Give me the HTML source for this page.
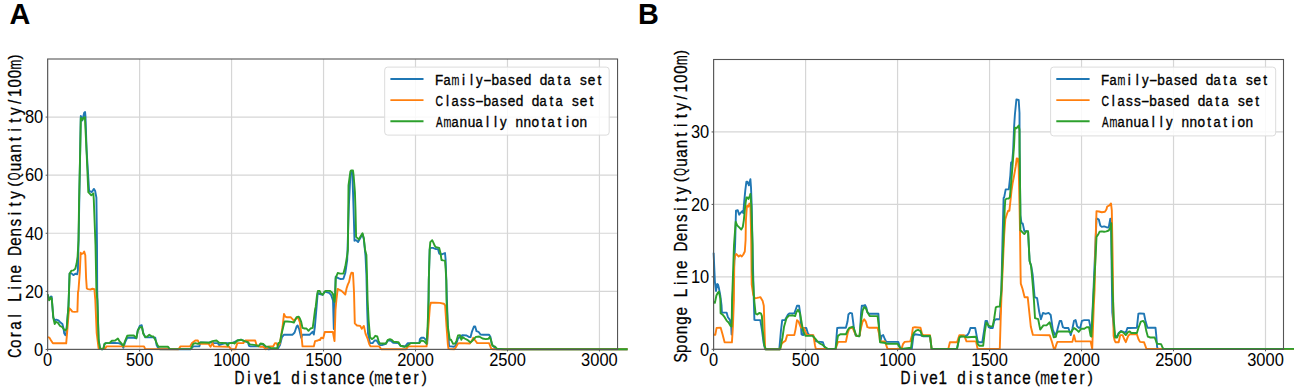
<!DOCTYPE html>
<html><head><meta charset="utf-8"><style>
html,body{margin:0;padding:0;background:#fff;width:1299px;height:392px;overflow:hidden}
svg{display:block}
</style></head><body>
<svg width="1299" height="392" viewBox="0 0 1299 392">
<rect width="1299" height="392" fill="#fff"/>
<g stroke="#d6d6d6" stroke-width="1.2"><line x1="47.65" y1="59.0" x2="47.65" y2="349.45"/><line x1="139.62" y1="59.0" x2="139.62" y2="349.45"/><line x1="231.58" y1="59.0" x2="231.58" y2="349.45"/><line x1="323.55" y1="59.0" x2="323.55" y2="349.45"/><line x1="415.51" y1="59.0" x2="415.51" y2="349.45"/><line x1="507.48" y1="59.0" x2="507.48" y2="349.45"/><line x1="599.44" y1="59.0" x2="599.44" y2="349.45"/><line x1="47.65" y1="349.45" x2="617.5" y2="349.45"/><line x1="47.65" y1="291.36" x2="617.5" y2="291.36"/><line x1="47.65" y1="233.27" x2="617.5" y2="233.27"/><line x1="47.65" y1="175.18" x2="617.5" y2="175.18"/><line x1="47.65" y1="117.09" x2="617.5" y2="117.09"/></g>
<polyline fill="none" stroke="#1f77b4" stroke-width="1.9" stroke-linejoin="round" stroke-linecap="butt" points="47.7,294.5 49.2,299.5 50.9,296.5 51.7,296.7 53.2,317.3 54.7,320.3 56.2,319.6 58.5,320.3 60.5,322.6 62.4,324.1 63.6,328.7 64.2,333.3 65.4,335.2 66.2,333.3 68.5,305.8 69.6,273.4 71.5,273.4 73.4,275.1 75.3,273.8 77.2,274.2 77.9,270.6 78.6,240.0 79.3,200.0 80.2,150.0 80.8,115.9 82.3,120.4 84.2,112.8 85.1,112.1 85.5,116.6 86.6,150.0 89.1,190.8 91.9,192.1 93.8,188.9 95.1,190.8 96.4,197.6 97.0,245.0 97.2,290.0 98.6,340.0 100.0,348.4 102.0,349.3 103.3,349.1 104.6,343.8 105.9,343.1 109.3,343.1 111.2,342.7 118.5,343.1 121.2,344.0 123.4,347.7 125.2,342.0 127.2,337.8 133.8,337.8 136.4,338.2 137.8,330.5 139.8,325.9 141.7,325.2 143.3,333.2 145.3,337.4 153.3,337.4 155.3,337.8 156.6,345.1 157.9,347.7 160.0,349.3 190.6,349.3 193.3,346.4 199.3,346.4 200.6,342.4 209.2,342.7 212.5,342.0 213.2,343.1 217.8,343.1 219.2,345.1 222.0,344.0 225.8,343.1 232.4,343.1 237.3,340.5 241.3,339.8 244.6,341.1 247.9,342.2 249.0,345.8 250.6,346.4 255.9,346.4 258.5,346.4 260.5,344.0 263.2,344.5 265.2,347.7 268.5,349.3 278.0,348.4 280.0,345.1 282.0,337.1 284.0,334.7 292.6,334.7 294.6,332.5 296.6,326.5 297.6,325.5 299.2,329.2 301.2,337.8 302.5,334.7 309.8,334.7 311.2,333.2 312.7,331.8 313.8,334.5 314.9,326.5 316.5,308.0 317.7,292.9 319.6,294.1 322.8,294.8 324.7,291.6 329.1,292.9 331.0,294.8 333.0,300.5 333.8,329.0 335.7,276.8 338.9,278.3 340.8,279.1 343.4,278.7 345.3,273.0 347.2,260.2 348.9,205.0 350.4,175.0 351.7,171.5 352.3,172.8 353.0,191.9 353.6,210.0 354.5,240.7 356.1,240.1 358.1,242.0 360.6,237.5 362.5,234.0 363.8,239.0 365.5,256.0 366.4,275.0 367.2,310.0 368.0,333.2 370.0,343.1 372.6,343.1 374.6,340.5 376.6,340.5 378.6,343.8 379.9,345.1 381.9,345.1 385.9,343.8 387.9,340.5 390.5,340.5 393.2,342.7 398.5,343.1 400.5,345.8 405.0,346.5 407.8,343.1 412.0,343.1 419.3,343.1 419.9,339.1 421.3,337.8 423.9,337.8 425.9,339.8 427.2,343.8 428.2,320.0 428.8,280.0 429.7,249.1 431.0,247.9 432.9,247.9 436.0,249.1 438.0,249.1 439.2,253.6 440.5,254.2 442.4,254.2 445.0,253.0 445.6,259.3 446.3,280.0 447.8,326.5 449.1,346.4 451.1,346.4 453.8,346.7 455.7,345.8 458.0,338.5 460.0,336.9 462.6,335.1 466.6,335.5 469.3,337.1 470.6,337.1 471.9,331.8 473.9,326.5 475.2,326.5 476.5,331.2 478.5,331.8 480.5,334.5 483.2,334.7 489.1,334.7 490.5,337.1 491.8,344.4 493.8,346.4 495.1,348.4 497.0,349.3 627.6,349.3"/>
<polyline fill="none" stroke="#ff7f0e" stroke-width="1.9" stroke-linejoin="round" stroke-linecap="butt" points="47.7,337.2 49.4,337.6 50.9,340.2 52.9,343.3 66.2,343.3 67.3,330.3 68.5,315.0 69.3,308.1 70.8,309.6 72.3,311.6 74.6,311.9 77.4,311.6 78.0,292.0 78.5,290.0 79.8,271.9 80.7,252.8 81.7,254.0 83.0,253.4 84.2,251.5 85.3,255.3 86.1,278.3 86.8,288.5 88.1,289.1 90.6,289.5 92.5,288.7 94.4,289.1 95.3,300.0 96.7,333.2 98.6,348.4 104.6,349.1 106.6,346.4 144.0,346.4 145.3,349.1 178.5,349.3 180.5,346.4 190.0,346.4 192.0,343.1 195.3,340.5 197.9,340.5 199.3,343.8 208.5,343.8 210.5,346.7 212.5,343.1 213.9,346.4 229.1,346.7 231.1,349.3 235.3,349.3 237.3,343.1 243.3,343.1 245.3,340.5 255.2,340.5 256.5,345.1 259.9,346.7 263.2,346.7 265.8,349.3 269.1,346.4 273.1,346.4 275.1,343.1 276.4,343.1 277.8,345.8 279.7,343.8 280.7,338.5 282.6,326.5 284.0,313.9 285.3,316.6 286.6,317.2 290.6,317.2 293.9,320.6 295.9,318.6 297.9,317.2 299.9,322.5 301.2,333.2 302.5,346.4 313.8,346.4 315.1,341.1 317.8,340.5 319.1,339.8 320.0,340.0 321.1,337.8 323.2,338.2 324.8,332.0 332.9,332.0 334.5,341.1 335.5,310.0 336.4,300.0 337.7,288.9 338.9,289.5 341.5,290.8 343.4,292.7 345.3,294.6 346.6,288.3 347.9,284.4 349.1,281.9 350.4,275.5 351.4,272.7 353.0,273.0 354.0,292.1 354.8,323.4 357.0,325.5 360.2,325.9 361.8,328.8 363.9,325.9 365.5,333.6 367.7,338.9 369.3,344.3 370.6,346.4 379.2,346.4 381.2,349.3 405.8,349.3 407.8,346.8 408.5,346.4 426.6,346.4 427.9,333.2 429.9,306.6 430.8,302.7 434.5,302.7 439.8,302.9 443.8,303.7 445.1,305.3 446.5,326.5 447.8,343.8 448.5,349.1 454.4,349.3 456.4,346.4 458.0,343.5 460.0,343.1 469.9,343.5 471.9,340.5 473.2,337.8 475.2,340.5 477.2,343.1 489.1,343.1 491.1,348.4 492.5,349.3 627.6,349.3"/>
<polyline fill="none" stroke="#2ca02c" stroke-width="1.9" stroke-linejoin="round" stroke-linecap="butt" points="47.7,294.4 49.1,300.3 50.9,297.4 51.7,298.5 53.5,318.8 54.7,324.1 55.9,321.8 57.8,322.6 60.1,326.0 62.4,327.2 63.9,329.5 65.4,330.3 66.7,328.7 68.5,305.8 69.6,273.8 71.5,270.6 73.4,270.4 75.3,268.7 76.6,263.6 77.6,256.6 78.5,240.0 79.1,200.0 80.2,150.0 80.8,117.9 82.3,119.8 83.6,117.9 84.9,117.2 86.5,150.0 88.3,192.1 91.3,195.3 93.4,193.4 93.8,200.0 95.5,245.0 96.4,290.0 97.3,300.0 98.6,339.8 100.0,348.4 102.0,349.3 103.3,349.1 104.6,343.8 105.9,343.1 109.3,343.1 111.9,340.8 115.2,340.5 117.9,338.5 119.2,340.8 121.2,343.1 123.4,345.8 125.2,340.5 127.2,335.8 129.8,335.5 133.8,335.5 136.4,338.2 137.8,330.5 139.8,327.2 142.0,327.2 143.3,333.8 145.3,337.1 147.3,336.5 149.3,334.7 151.3,336.1 153.3,336.5 155.3,339.8 157.2,344.4 158.6,346.7 167.9,346.7 169.8,349.1 190.6,349.1 193.3,343.8 195.3,343.1 197.9,343.8 200.6,342.4 209.2,342.7 212.5,341.1 216.5,340.5 219.2,342.7 225.8,343.1 227.8,345.8 229.1,343.1 233.7,342.7 234.5,343.5 237.3,340.5 241.3,339.8 244.6,341.1 247.9,342.2 249.9,344.4 255.9,345.1 258.5,346.2 260.5,343.5 263.2,344.0 265.8,346.4 268.5,346.7 270.5,348.0 277.1,348.4 278.4,343.1 280.0,342.4 281.3,335.1 283.3,326.5 284.6,321.5 287.3,321.5 291.3,321.9 293.9,322.5 296.6,317.2 298.6,316.6 299.9,318.6 301.2,321.9 302.5,327.9 304.5,328.5 306.5,328.5 308.5,330.8 310.5,328.5 312.7,327.9 313.8,319.9 315.1,309.3 315.7,306.9 317.0,295.4 317.9,290.9 319.6,290.9 320.8,293.5 322.8,294.8 324.7,291.6 325.9,290.9 329.8,290.9 331.7,292.2 333.0,294.1 334.0,300.5 334.5,301.8 335.3,292.9 335.7,278.1 337.7,273.0 340.2,273.6 343.4,273.6 345.3,266.6 347.2,255.1 347.9,250.0 348.5,185.5 350.4,171.5 351.0,170.5 353.0,170.5 353.6,175.3 354.9,191.9 355.5,210.0 356.1,236.9 358.7,239.4 360.6,236.3 362.5,233.3 363.8,238.2 365.1,250.0 366.4,255.1 367.0,275.5 367.6,300.0 368.6,319.9 370.0,337.1 371.9,339.1 373.9,337.8 375.3,335.8 377.3,336.5 378.6,341.1 379.9,343.5 385.9,343.5 387.9,339.8 389.9,339.1 391.8,339.8 393.8,341.8 398.5,342.2 400.5,345.8 404.4,346.7 406.4,346.4 408.4,345.1 410.7,343.1 419.3,343.1 421.3,340.5 423.9,341.1 426.6,343.8 427.6,326.5 428.6,300.0 428.8,280.0 429.7,249.1 430.3,242.1 432.2,240.2 433.5,242.8 434.8,245.9 436.0,247.2 439.2,247.9 440.5,253.0 441.5,260.0 443.1,260.4 445.0,260.6 445.6,268.3 446.3,280.0 446.5,300.0 447.8,326.5 449.8,339.8 451.1,339.8 453.1,343.8 455.1,343.5 456.4,341.1 458.0,335.5 460.0,335.1 461.3,339.8 462.6,337.1 464.6,338.5 467.3,339.8 470.6,342.4 472.6,340.5 475.9,336.9 479.2,336.5 482.5,338.5 485.8,339.1 488.5,338.7 489.8,337.1 490.9,339.8 492.5,345.8 495.1,346.7 497.1,348.8 504.0,349.3 627.6,349.3"/>
<rect x="47.65" y="59.0" width="569.9" height="290.4" fill="none" stroke="#555" stroke-width="1.1"/>
<g stroke="#555" stroke-width="1"><line x1="47.65" y1="349.45" x2="47.65" y2="351.45"/><line x1="139.62" y1="349.45" x2="139.62" y2="351.45"/><line x1="231.58" y1="349.45" x2="231.58" y2="351.45"/><line x1="323.55" y1="349.45" x2="323.55" y2="351.45"/><line x1="415.51" y1="349.45" x2="415.51" y2="351.45"/><line x1="507.48" y1="349.45" x2="507.48" y2="351.45"/><line x1="599.44" y1="349.45" x2="599.44" y2="351.45"/><line x1="45.65" y1="349.45" x2="47.65" y2="349.45"/><line x1="45.65" y1="291.36" x2="47.65" y2="291.36"/><line x1="45.65" y1="233.27" x2="47.65" y2="233.27"/><line x1="45.65" y1="175.18" x2="47.65" y2="175.18"/><line x1="45.65" y1="117.09" x2="47.65" y2="117.09"/></g>
<g font-family="Liberation Sans, sans-serif" font-size="18.0" fill="#000"><text transform="translate(47.65,365.7) scale(0.915,1)" text-anchor="middle">0</text><text transform="translate(139.62,365.7) scale(0.915,1)" text-anchor="middle">500</text><text transform="translate(231.58,365.7) scale(0.915,1)" text-anchor="middle">1000</text><text transform="translate(323.55,365.7) scale(0.915,1)" text-anchor="middle">1500</text><text transform="translate(415.51,365.7) scale(0.915,1)" text-anchor="middle">2000</text><text transform="translate(507.48,365.7) scale(0.915,1)" text-anchor="middle">2500</text><text transform="translate(599.44,365.7) scale(0.915,1)" text-anchor="middle">3000</text><text transform="translate(43.25,355.75) scale(0.915,1)" text-anchor="end">0</text><text transform="translate(43.25,297.66) scale(0.915,1)" text-anchor="end">20</text><text transform="translate(43.25,239.57) scale(0.915,1)" text-anchor="end">40</text><text transform="translate(43.25,181.48) scale(0.915,1)" text-anchor="end">60</text><text transform="translate(43.25,123.39) scale(0.915,1)" text-anchor="end">80</text></g>
<g transform="translate(0,383.6)" font-family="Liberation Sans, sans-serif" font-size="17.7" stroke="#000" stroke-width="0.3"><text transform="translate(239.60,0) scale(0.781,1)" x="-6.69">D</text><text transform="translate(248.90,0) scale(0.860,1)" x="-1.96">i</text><text transform="translate(258.20,0) scale(0.860,1)" x="-4.42">v</text><text transform="translate(267.50,0) scale(0.860,1)" x="-4.90">e</text><text transform="translate(276.80,0) scale(0.860,1)" x="-5.16">1</text><text transform="translate(295.40,0) scale(0.860,1)" x="-4.72">d</text><text transform="translate(304.70,0) scale(0.860,1)" x="-1.96">i</text><text transform="translate(314.00,0) scale(0.860,1)" x="-4.35">s</text><text transform="translate(323.30,0) scale(0.860,1)" x="-2.53">t</text><text transform="translate(332.60,0) scale(0.860,1)" x="-5.30">a</text><text transform="translate(341.90,0) scale(0.860,1)" x="-4.93">n</text><text transform="translate(351.20,0) scale(0.860,1)" x="-4.57">c</text><text transform="translate(360.50,0) scale(0.860,1)" x="-4.90">e</text><text transform="translate(371.66,-0.9) scale(0.860,0.9)" x="-3.44">(</text><text transform="translate(379.10,0) scale(0.660,1)" x="-7.38">m</text><text transform="translate(388.40,0) scale(0.860,1)" x="-4.90">e</text><text transform="translate(397.70,0) scale(0.860,1)" x="-2.53">t</text><text transform="translate(407.00,0) scale(0.860,1)" x="-4.90">e</text><text transform="translate(416.30,0) scale(0.860,1)" x="-3.39">r</text><text transform="translate(423.74,-0.9) scale(0.860,0.9)" x="-2.45">)</text></g>
<g transform="translate(21.0,357.7) rotate(-90)" font-family="Liberation Sans, sans-serif" font-size="17.7" stroke="#000" stroke-width="0.3"><text transform="translate(4.65,0) scale(0.730,1)" x="-6.50">C</text><text transform="translate(13.95,0) scale(0.860,1)" x="-4.92">o</text><text transform="translate(23.25,0) scale(0.860,1)" x="-3.39">r</text><text transform="translate(32.55,0) scale(0.860,1)" x="-5.30">a</text><text transform="translate(41.85,0) scale(0.860,1)" x="-1.97">l</text><text transform="translate(60.45,0) scale(0.860,1)" x="-5.35">L</text><text transform="translate(69.75,0) scale(0.860,1)" x="-1.96">i</text><text transform="translate(79.05,0) scale(0.860,1)" x="-4.93">n</text><text transform="translate(88.35,0) scale(0.860,1)" x="-4.90">e</text><text transform="translate(106.95,0) scale(0.781,1)" x="-6.69">D</text><text transform="translate(116.25,0) scale(0.860,1)" x="-4.90">e</text><text transform="translate(125.55,0) scale(0.860,1)" x="-4.93">n</text><text transform="translate(134.85,0) scale(0.860,1)" x="-4.35">s</text><text transform="translate(144.15,0) scale(0.860,1)" x="-1.96">i</text><text transform="translate(153.45,0) scale(0.860,1)" x="-2.53">t</text><text transform="translate(162.75,0) scale(0.860,1)" x="-4.43">y</text><text transform="translate(173.91,-0.9) scale(0.860,0.9)" x="-3.44">(</text><text transform="translate(181.35,-0.6) scale(0.560,0.9)" x="-6.88">Q</text><text transform="translate(190.65,0) scale(0.860,1)" x="-4.91">u</text><text transform="translate(199.95,0) scale(0.860,1)" x="-5.30">a</text><text transform="translate(209.25,0) scale(0.860,1)" x="-4.93">n</text><text transform="translate(218.55,0) scale(0.860,1)" x="-2.53">t</text><text transform="translate(227.85,0) scale(0.860,1)" x="-1.96">i</text><text transform="translate(237.15,0) scale(0.860,1)" x="-2.53">t</text><text transform="translate(246.45,0) scale(0.860,1)" x="-4.43">y</text><text transform="translate(255.75,0) scale(0.860,1)" x="-2.46">/</text><text transform="translate(265.05,0) scale(0.860,1)" x="-5.16">1</text><text transform="translate(274.35,0) scale(0.860,1)" x="-4.92">0</text><text transform="translate(283.65,0) scale(0.860,1)" x="-4.92">0</text><text transform="translate(292.95,0) scale(0.660,1)" x="-7.38">m</text><text transform="translate(300.39,-0.9) scale(0.860,0.9)" x="-2.45">)</text></g>
<text transform="translate(9.6,23.9) scale(0.95,1)" font-family="Liberation Sans, sans-serif" font-weight="bold" font-size="30.4">A</text>
<rect x="384.7" y="67.1" width="224.5" height="68.0" rx="3" ry="3" fill="#fff" fill-opacity="0.85" stroke="#dcdcdc" stroke-width="1"/>
<line x1="390.4" y1="79.0" x2="423.5" y2="79.0" stroke="#1f77b4" stroke-width="1.9"/>
<g transform="translate(0,84.7)" font-family="Liberation Sans, sans-serif" font-size="14.8" stroke="#000" stroke-width="0.35"><text transform="translate(439.40,0) scale(0.907,1)" x="-4.83">F</text><text transform="translate(447.40,0) scale(0.863,1)" x="-4.43">a</text><text transform="translate(455.40,0) scale(0.633,1)" x="-6.17">m</text><text transform="translate(463.40,0) scale(0.920,1)" x="-1.64">i</text><text transform="translate(471.40,0) scale(0.920,1)" x="-1.65">l</text><text transform="translate(479.40,0) scale(0.894,1)" x="-3.70">y</text><text transform="translate(487.40,0) scale(1.725,1)" x="-2.46">-</text><text transform="translate(495.40,0) scale(0.920,1)" x="-4.28">b</text><text transform="translate(503.40,0) scale(0.863,1)" x="-4.43">a</text><text transform="translate(511.40,0) scale(0.920,1)" x="-3.64">s</text><text transform="translate(519.40,0) scale(0.920,1)" x="-4.10">e</text><text transform="translate(527.40,0) scale(0.920,1)" x="-3.95">d</text><text transform="translate(543.40,0) scale(0.920,1)" x="-3.95">d</text><text transform="translate(551.40,0) scale(0.863,1)" x="-4.43">a</text><text transform="translate(559.40,0) scale(0.920,1)" x="-2.11">t</text><text transform="translate(567.40,0) scale(0.863,1)" x="-4.43">a</text><text transform="translate(583.40,0) scale(0.920,1)" x="-3.64">s</text><text transform="translate(591.40,0) scale(0.920,1)" x="-4.10">e</text><text transform="translate(599.40,0) scale(0.920,1)" x="-2.11">t</text></g>
<line x1="390.4" y1="100.1" x2="423.5" y2="100.1" stroke="#ff7f0e" stroke-width="1.9"/>
<g transform="translate(0,105.8)" font-family="Liberation Sans, sans-serif" font-size="14.8" stroke="#000" stroke-width="0.35"><text transform="translate(439.40,0) scale(0.700,1)" x="-5.44">C</text><text transform="translate(447.40,0) scale(0.920,1)" x="-1.65">l</text><text transform="translate(455.40,0) scale(0.863,1)" x="-4.43">a</text><text transform="translate(463.40,0) scale(0.920,1)" x="-3.64">s</text><text transform="translate(471.40,0) scale(0.920,1)" x="-3.64">s</text><text transform="translate(479.40,0) scale(1.725,1)" x="-2.46">-</text><text transform="translate(487.40,0) scale(0.920,1)" x="-4.28">b</text><text transform="translate(495.40,0) scale(0.863,1)" x="-4.43">a</text><text transform="translate(503.40,0) scale(0.920,1)" x="-3.64">s</text><text transform="translate(511.40,0) scale(0.920,1)" x="-4.10">e</text><text transform="translate(519.40,0) scale(0.920,1)" x="-3.95">d</text><text transform="translate(535.40,0) scale(0.920,1)" x="-3.95">d</text><text transform="translate(543.40,0) scale(0.863,1)" x="-4.43">a</text><text transform="translate(551.40,0) scale(0.920,1)" x="-2.11">t</text><text transform="translate(559.40,0) scale(0.863,1)" x="-4.43">a</text><text transform="translate(575.40,0) scale(0.920,1)" x="-3.64">s</text><text transform="translate(583.40,0) scale(0.920,1)" x="-4.10">e</text><text transform="translate(591.40,0) scale(0.920,1)" x="-2.11">t</text></g>
<line x1="390.4" y1="121.2" x2="423.5" y2="121.2" stroke="#2ca02c" stroke-width="1.9"/>
<g transform="translate(0,126.9)" font-family="Liberation Sans, sans-serif" font-size="14.8" stroke="#000" stroke-width="0.35"><text transform="translate(439.40,0) scale(0.668,1)" x="-4.94">A</text><text transform="translate(447.40,0) scale(0.633,1)" x="-6.17">m</text><text transform="translate(455.40,0) scale(0.863,1)" x="-4.43">a</text><text transform="translate(463.40,0) scale(0.920,1)" x="-4.13">n</text><text transform="translate(471.40,0) scale(0.920,1)" x="-4.10">u</text><text transform="translate(479.40,0) scale(0.863,1)" x="-4.43">a</text><text transform="translate(487.40,0) scale(0.920,1)" x="-1.65">l</text><text transform="translate(495.40,0) scale(0.920,1)" x="-1.65">l</text><text transform="translate(503.40,0) scale(0.894,1)" x="-3.70">y</text><text transform="translate(519.40,0) scale(0.920,1)" x="-4.13">n</text><text transform="translate(527.40,0) scale(0.920,1)" x="-4.13">n</text><text transform="translate(535.40,0) scale(0.920,1)" x="-4.12">o</text><text transform="translate(543.40,0) scale(0.920,1)" x="-2.11">t</text><text transform="translate(551.40,0) scale(0.863,1)" x="-4.43">a</text><text transform="translate(559.40,0) scale(0.920,1)" x="-2.11">t</text><text transform="translate(567.40,0) scale(0.920,1)" x="-1.64">i</text><text transform="translate(575.40,0) scale(0.920,1)" x="-4.12">o</text><text transform="translate(583.40,0) scale(0.920,1)" x="-4.13">n</text></g>
<g stroke="#d6d6d6" stroke-width="1.2"><line x1="713.60" y1="59.5" x2="713.60" y2="349.3"/><line x1="805.59" y1="59.5" x2="805.59" y2="349.3"/><line x1="897.57" y1="59.5" x2="897.57" y2="349.3"/><line x1="989.56" y1="59.5" x2="989.56" y2="349.3"/><line x1="1081.54" y1="59.5" x2="1081.54" y2="349.3"/><line x1="1173.53" y1="59.5" x2="1173.53" y2="349.3"/><line x1="1265.51" y1="59.5" x2="1265.51" y2="349.3"/><line x1="713.6" y1="349.30" x2="1283.5" y2="349.30"/><line x1="713.6" y1="276.85" x2="1283.5" y2="276.85"/><line x1="713.6" y1="204.40" x2="1283.5" y2="204.40"/><line x1="713.6" y1="131.95" x2="1283.5" y2="131.95"/></g>
<polyline fill="none" stroke="#1f77b4" stroke-width="1.9" stroke-linejoin="round" stroke-linecap="butt" points="713.6,252.7 714.9,281.8 716.0,291.0 717.2,284.0 718.0,284.5 719.0,288.6 720.3,295.5 721.5,305.0 721.9,312.6 726.6,312.6 727.9,317.2 729.9,319.9 731.2,326.5 731.6,334.5 732.5,300.0 735.1,245.0 736.0,210.6 737.7,210.1 739.2,214.7 740.8,212.7 742.3,211.1 743.3,213.2 744.3,200.6 745.3,190.4 746.4,181.7 747.4,181.7 748.9,185.3 750.4,179.1 751.0,187.3 751.7,205.7 752.5,245.0 753.8,300.0 754.4,319.9 755.6,320.1 760.3,320.1 761.9,329.6 763.5,342.2 765.1,349.3 779.3,349.3 780.9,331.1 782.2,320.1 784.9,320.1 788.0,314.5 789.6,313.4 794.3,313.4 795.9,309.0 797.0,305.8 799.1,305.8 800.2,313.7 801.5,334.3 803.2,335.1 804.0,328.0 806.3,328.0 807.9,333.5 809.5,335.1 812.7,335.1 815.8,341.4 820.6,341.9 822.9,342.2 824.5,347.0 826.9,348.9 835.6,348.9 837.2,328.0 839.6,327.7 845.9,327.7 847.5,321.6 848.4,314.5 850.0,312.9 852.0,313.4 853.1,321.6 853.9,328.0 855.5,335.1 858.7,336.2 859.9,335.1 861.0,313.7 861.8,305.8 863.4,305.8 865.0,305.0 866.3,307.4 867.4,312.2 868.9,313.7 878.4,313.7 879.2,329.6 880.5,341.4 881.6,335.9 883.2,335.1 884.8,339.0 886.3,341.9 898.3,341.9 899.9,347.0 901.5,348.9 911.8,348.9 913.4,335.9 914.9,334.3 920.5,335.1 922.9,336.2 930.0,336.2 931.6,348.9 957.0,348.9 959.4,336.7 964.9,335.9 967.3,335.1 968.9,332.7 970.4,328.0 975.2,328.0 977.6,340.6 978.8,342.2 982.3,342.2 984.0,331.1 985.5,320.9 987.1,320.9 988.7,327.2 990.3,328.0 992.7,328.0 994.2,320.9 995.8,319.3 999.8,319.3 1000.6,309.0 1001.4,290.0 1002.5,240.0 1003.6,198.0 1004.2,197.1 1005.7,189.4 1008.8,189.4 1010.3,175.6 1011.1,162.6 1012.2,161.8 1013.1,151.1 1014.1,126.8 1014.9,114.5 1016.4,99.5 1018.7,100.0 1019.5,113.0 1019.6,150.0 1020.4,215.0 1021.5,223.4 1022.7,223.4 1024.3,231.0 1026.5,231.1 1028.1,231.5 1028.8,245.6 1029.6,261.0 1031.1,265.5 1032.7,275.0 1034.6,297.2 1037.1,298.2 1039.2,311.8 1040.9,319.2 1043.0,312.9 1045.5,313.9 1048.6,312.9 1050.7,315.0 1052.8,329.6 1054.9,334.9 1056.6,332.7 1058.2,326.4 1059.7,320.9 1061.3,320.9 1062.9,327.2 1064.5,328.0 1068.4,328.0 1070.0,332.7 1070.8,335.1 1072.4,328.8 1074.0,320.9 1075.6,320.1 1077.2,326.4 1078.7,327.7 1080.3,327.7 1081.9,320.9 1084.3,320.1 1089.0,320.1 1090.6,328.0 1091.4,335.9 1093.5,290.0 1096.5,219.0 1097.3,218.7 1098.8,219.5 1100.3,225.6 1101.8,226.9 1104.1,226.4 1106.4,227.2 1108.7,227.5 1110.3,218.7 1111.0,222.0 1112.3,312.5 1113.9,328.0 1114.7,335.9 1117.1,336.5 1118.7,333.0 1121.0,331.0 1123.4,332.0 1125.8,332.7 1127.4,328.0 1129.7,328.0 1136.9,327.7 1138.4,313.7 1140.0,313.4 1144.0,313.7 1145.6,321.6 1147.5,327.7 1155.5,327.7 1156.3,335.9 1157.1,347.0 1157.9,348.9 1294.0,348.9"/>
<polyline fill="none" stroke="#ff7f0e" stroke-width="1.9" stroke-linejoin="round" stroke-linecap="butt" points="713.6,334.7 715.3,334.7 716.6,327.9 720.6,327.6 722.6,334.5 724.6,342.2 731.9,342.4 732.9,326.5 733.9,300.0 734.3,260.3 735.3,255.0 736.4,254.1 738.7,256.5 740.3,255.3 741.8,256.5 743.3,254.5 744.8,251.5 745.6,240.0 745.9,220.3 746.9,206.0 747.4,205.7 748.4,206.7 749.4,203.6 750.4,204.5 751.2,240.0 751.7,284.4 753.3,295.1 754.8,298.2 757.1,297.9 759.4,297.4 760.3,297.1 762.7,301.1 763.8,305.8 764.3,321.6 765.1,348.5 765.9,349.3 780.1,349.3 781.7,343.8 783.3,342.2 785.6,340.6 787.2,335.1 794.3,335.1 795.5,329.6 797.0,320.1 798.6,321.6 800.7,327.2 802.3,328.0 804.0,328.0 805.5,331.9 807.1,335.1 813.4,335.1 815.0,345.4 815.8,348.9 835.6,348.9 838.0,341.9 845.9,341.9 847.6,333.5 849.2,328.8 851.5,327.7 853.1,328.8 854.7,332.7 856.3,335.9 859.4,335.9 861.0,328.0 862.6,321.6 864.2,319.3 865.8,321.6 867.4,327.2 868.9,327.7 877.6,327.7 879.2,334.3 880.0,341.4 884.8,341.4 886.3,345.4 887.5,348.9 901.5,348.9 903.1,343.8 904.7,341.9 910.2,341.4 911.8,335.9 912.9,327.7 914.9,327.2 920.5,327.7 922.1,334.3 923.6,335.1 930.0,335.1 931.6,348.9 948.3,348.9 949.9,342.2 957.0,342.2 959.4,335.1 964.1,335.1 966.5,341.4 976.0,341.4 977.6,348.9 999.8,348.9 1000.6,321.6 1001.4,297.9 1002.2,280.0 1004.2,235.0 1005.3,219.3 1007.1,213.5 1008.2,210.7 1009.4,210.7 1010.5,200.3 1011.6,190.0 1012.6,183.3 1014.1,175.6 1015.7,166.4 1016.7,158.5 1018.0,158.8 1018.7,168.0 1019.5,205.0 1020.0,230.0 1020.6,275.0 1020.8,283.6 1022.5,288.8 1024.6,297.2 1027.7,297.2 1028.7,306.6 1030.8,326.5 1032.9,334.9 1049.7,335.3 1051.7,341.1 1053.8,348.5 1055.0,348.9 1056.6,343.8 1057.4,341.9 1072.4,341.9 1074.0,335.1 1075.6,341.4 1090.6,341.4 1092.2,348.9 1093.8,305.8 1094.6,290.0 1095.7,236.3 1096.5,211.1 1098.8,211.5 1101.8,212.2 1104.9,211.8 1106.4,209.5 1107.2,206.5 1109.5,205.4 1111.0,203.4 1111.8,210.3 1112.6,255.0 1113.6,335.9 1114.7,340.6 1115.5,342.2 1118.7,342.2 1120.2,335.1 1122.6,335.1 1124.2,339.0 1125.8,342.2 1128.2,335.9 1129.7,334.3 1136.9,334.3 1138.4,339.0 1140.0,341.9 1144.0,342.2 1146.3,348.5 1147.0,348.9 1294.0,348.9"/>
<polyline fill="none" stroke="#2ca02c" stroke-width="1.9" stroke-linejoin="round" stroke-linecap="butt" points="713.6,301.7 714.9,302.9 716.4,295.5 718.0,292.5 719.0,291.7 720.3,298.6 720.6,313.3 722.6,314.6 724.6,317.2 726.6,320.6 728.6,322.5 730.5,325.9 731.6,326.5 732.1,300.0 734.0,245.0 735.7,221.8 737.2,225.4 739.2,227.4 741.3,229.5 742.8,226.9 743.8,220.3 744.8,210.1 745.3,205.0 746.4,197.5 747.4,197.5 748.4,199.0 749.9,195.5 750.4,193.9 751.3,205.7 752.5,245.0 752.5,270.6 753.8,293.8 754.4,302.0 755.6,313.7 757.2,314.5 759.5,312.9 761.1,313.7 761.9,316.1 762.7,329.6 764.3,345.4 765.9,349.3 780.1,349.3 782.5,337.5 784.1,326.4 786.4,318.5 788.8,315.6 792.8,315.3 795.1,316.1 796.4,312.2 798.0,309.8 799.9,312.9 801.5,321.6 803.1,331.1 805.5,335.9 812.7,335.9 815.0,338.3 817.4,341.4 819.8,343.5 822.2,344.6 825.3,347.3 827.7,348.9 835.6,348.9 838.0,335.9 840.3,334.3 845.9,334.3 847.6,330.3 849.2,328.0 851.5,327.2 853.1,326.7 854.7,331.1 856.3,335.9 859.4,336.2 861.0,321.6 862.6,310.6 864.2,307.1 865.8,308.2 867.4,312.2 869.7,316.1 877.6,316.1 879.2,329.6 880.0,342.2 885.6,343.0 886.3,343.8 897.5,343.8 899.9,347.8 901.5,348.9 911.0,347.8 912.6,335.9 914.2,332.4 916.5,330.3 918.1,329.9 920.5,331.1 922.1,335.9 930.0,335.9 931.6,348.9 957.0,348.9 959.4,337.5 960.9,336.2 964.9,336.7 967.3,337.2 976.0,336.7 977.6,343.8 979.1,345.7 983.2,345.7 984.7,332.7 986.3,322.4 988.7,325.6 990.3,326.4 992.7,326.1 994.2,318.5 995.8,307.4 997.4,306.6 999.8,306.6 1000.6,297.9 1001.4,290.0 1003.6,235.0 1004.8,207.2 1005.3,199.8 1006.5,198.6 1008.8,198.6 1009.9,196.9 1011.1,183.3 1012.6,164.9 1013.4,154.2 1014.1,145.0 1014.9,127.5 1016.4,128.3 1018.0,126.4 1018.7,125.5 1019.5,130.0 1019.6,150.0 1020.3,205.0 1020.4,230.3 1022.0,231.8 1024.3,234.1 1026.5,231.1 1028.1,231.5 1028.8,245.6 1029.6,261.0 1031.1,266.3 1031.9,275.0 1032.9,286.7 1034.0,301.4 1035.0,318.1 1038.2,319.2 1040.2,329.6 1043.4,325.4 1046.5,325.4 1049.7,322.3 1051.7,329.6 1053.8,337.4 1055.9,336.9 1056.6,333.5 1058.2,331.5 1068.4,331.5 1070.8,332.4 1072.4,330.3 1074.0,328.0 1076.4,329.6 1078.7,331.9 1081.1,328.8 1084.3,328.8 1086.6,327.2 1089.0,327.2 1090.6,335.9 1091.4,336.7 1093.0,305.8 1093.8,290.0 1095.7,255.0 1096.5,237.1 1098.0,234.8 1099.5,231.8 1101.8,231.4 1104.1,231.8 1106.4,231.4 1108.7,230.5 1110.3,227.9 1111.3,223.3 1111.8,255.0 1112.6,290.0 1113.9,321.6 1115.2,337.5 1117.1,337.5 1118.7,333.5 1121.0,331.5 1123.4,332.7 1125.8,335.1 1128.2,331.9 1129.7,331.5 1131.3,333.0 1136.9,333.0 1138.4,328.0 1140.8,321.6 1143.2,320.9 1144.8,323.2 1146.3,331.1 1147.9,336.7 1150.3,337.5 1154.7,337.5 1157.1,343.8 1161.1,344.1 1162.7,347.8 1163.4,348.9 1294.0,348.9"/>
<rect x="713.6" y="59.5" width="569.9" height="289.8" fill="none" stroke="#555" stroke-width="1.1"/>
<g stroke="#555" stroke-width="1"><line x1="713.60" y1="349.3" x2="713.60" y2="351.3"/><line x1="805.59" y1="349.3" x2="805.59" y2="351.3"/><line x1="897.57" y1="349.3" x2="897.57" y2="351.3"/><line x1="989.56" y1="349.3" x2="989.56" y2="351.3"/><line x1="1081.54" y1="349.3" x2="1081.54" y2="351.3"/><line x1="1173.53" y1="349.3" x2="1173.53" y2="351.3"/><line x1="1265.51" y1="349.3" x2="1265.51" y2="351.3"/><line x1="711.6" y1="349.30" x2="713.6" y2="349.30"/><line x1="711.6" y1="276.85" x2="713.6" y2="276.85"/><line x1="711.6" y1="204.40" x2="713.6" y2="204.40"/><line x1="711.6" y1="131.95" x2="713.6" y2="131.95"/></g>
<g font-family="Liberation Sans, sans-serif" font-size="18.0" fill="#000"><text transform="translate(713.60,365.7) scale(0.915,1)" text-anchor="middle">0</text><text transform="translate(805.59,365.7) scale(0.915,1)" text-anchor="middle">500</text><text transform="translate(897.57,365.7) scale(0.915,1)" text-anchor="middle">1000</text><text transform="translate(989.56,365.7) scale(0.915,1)" text-anchor="middle">1500</text><text transform="translate(1081.54,365.7) scale(0.915,1)" text-anchor="middle">2000</text><text transform="translate(1173.53,365.7) scale(0.915,1)" text-anchor="middle">2500</text><text transform="translate(1265.51,365.7) scale(0.915,1)" text-anchor="middle">3000</text><text transform="translate(709.20,355.60) scale(0.915,1)" text-anchor="end">0</text><text transform="translate(709.20,283.15) scale(0.915,1)" text-anchor="end">10</text><text transform="translate(709.20,210.70) scale(0.915,1)" text-anchor="end">20</text><text transform="translate(709.20,138.25) scale(0.915,1)" text-anchor="end">30</text></g>
<g transform="translate(0,383.6)" font-family="Liberation Sans, sans-serif" font-size="17.7" stroke="#000" stroke-width="0.3"><text transform="translate(905.60,0) scale(0.781,1)" x="-6.69">D</text><text transform="translate(914.90,0) scale(0.860,1)" x="-1.96">i</text><text transform="translate(924.20,0) scale(0.860,1)" x="-4.42">v</text><text transform="translate(933.50,0) scale(0.860,1)" x="-4.90">e</text><text transform="translate(942.80,0) scale(0.860,1)" x="-5.16">1</text><text transform="translate(961.40,0) scale(0.860,1)" x="-4.72">d</text><text transform="translate(970.70,0) scale(0.860,1)" x="-1.96">i</text><text transform="translate(980.00,0) scale(0.860,1)" x="-4.35">s</text><text transform="translate(989.30,0) scale(0.860,1)" x="-2.53">t</text><text transform="translate(998.60,0) scale(0.860,1)" x="-5.30">a</text><text transform="translate(1007.90,0) scale(0.860,1)" x="-4.93">n</text><text transform="translate(1017.20,0) scale(0.860,1)" x="-4.57">c</text><text transform="translate(1026.50,0) scale(0.860,1)" x="-4.90">e</text><text transform="translate(1037.66,-0.9) scale(0.860,0.9)" x="-3.44">(</text><text transform="translate(1045.10,0) scale(0.660,1)" x="-7.38">m</text><text transform="translate(1054.40,0) scale(0.860,1)" x="-4.90">e</text><text transform="translate(1063.70,0) scale(0.860,1)" x="-2.53">t</text><text transform="translate(1073.00,0) scale(0.860,1)" x="-4.90">e</text><text transform="translate(1082.30,0) scale(0.860,1)" x="-3.39">r</text><text transform="translate(1089.74,-0.9) scale(0.860,0.9)" x="-2.45">)</text></g>
<g transform="translate(686.7,362.5) rotate(-90)" font-family="Liberation Sans, sans-serif" font-size="17.7" stroke="#000" stroke-width="0.3"><text transform="translate(4.65,0) scale(0.803,1)" x="-5.90">S</text><text transform="translate(13.95,0) scale(0.860,1)" x="-5.12">p</text><text transform="translate(23.25,0) scale(0.860,1)" x="-4.92">o</text><text transform="translate(32.55,0) scale(0.860,1)" x="-4.93">n</text><text transform="translate(41.85,0) scale(0.860,1)" x="-4.72">g</text><text transform="translate(51.15,0) scale(0.860,1)" x="-4.90">e</text><text transform="translate(69.75,0) scale(0.860,1)" x="-5.35">L</text><text transform="translate(79.05,0) scale(0.860,1)" x="-1.96">i</text><text transform="translate(88.35,0) scale(0.860,1)" x="-4.93">n</text><text transform="translate(97.65,0) scale(0.860,1)" x="-4.90">e</text><text transform="translate(116.25,0) scale(0.781,1)" x="-6.69">D</text><text transform="translate(125.55,0) scale(0.860,1)" x="-4.90">e</text><text transform="translate(134.85,0) scale(0.860,1)" x="-4.93">n</text><text transform="translate(144.15,0) scale(0.860,1)" x="-4.35">s</text><text transform="translate(153.45,0) scale(0.860,1)" x="-1.96">i</text><text transform="translate(162.75,0) scale(0.860,1)" x="-2.53">t</text><text transform="translate(172.05,0) scale(0.860,1)" x="-4.43">y</text><text transform="translate(183.21,-0.9) scale(0.860,0.9)" x="-3.44">(</text><text transform="translate(190.65,-0.6) scale(0.560,0.9)" x="-6.88">Q</text><text transform="translate(199.95,0) scale(0.860,1)" x="-4.91">u</text><text transform="translate(209.25,0) scale(0.860,1)" x="-5.30">a</text><text transform="translate(218.55,0) scale(0.860,1)" x="-4.93">n</text><text transform="translate(227.85,0) scale(0.860,1)" x="-2.53">t</text><text transform="translate(237.15,0) scale(0.860,1)" x="-1.96">i</text><text transform="translate(246.45,0) scale(0.860,1)" x="-2.53">t</text><text transform="translate(255.75,0) scale(0.860,1)" x="-4.43">y</text><text transform="translate(265.05,0) scale(0.860,1)" x="-2.46">/</text><text transform="translate(274.35,0) scale(0.860,1)" x="-5.16">1</text><text transform="translate(283.65,0) scale(0.860,1)" x="-4.92">0</text><text transform="translate(292.95,0) scale(0.860,1)" x="-4.92">0</text><text transform="translate(302.25,0) scale(0.660,1)" x="-7.38">m</text><text transform="translate(309.69,-0.9) scale(0.860,0.9)" x="-2.45">)</text></g>
<text transform="translate(638.0,23.9) scale(0.95,1)" font-family="Liberation Sans, sans-serif" font-weight="bold" font-size="30.4">B</text>
<rect x="1050.6" y="67.1" width="225.1" height="68.8" rx="3" ry="3" fill="#fff" fill-opacity="0.85" stroke="#dcdcdc" stroke-width="1"/>
<line x1="1056.3" y1="79.0" x2="1089.6" y2="79.0" stroke="#1f77b4" stroke-width="1.9"/>
<g transform="translate(0,84.7)" font-family="Liberation Sans, sans-serif" font-size="14.8" stroke="#000" stroke-width="0.35"><text transform="translate(1105.30,0) scale(0.907,1)" x="-4.83">F</text><text transform="translate(1113.30,0) scale(0.863,1)" x="-4.43">a</text><text transform="translate(1121.30,0) scale(0.633,1)" x="-6.17">m</text><text transform="translate(1129.30,0) scale(0.920,1)" x="-1.64">i</text><text transform="translate(1137.30,0) scale(0.920,1)" x="-1.65">l</text><text transform="translate(1145.30,0) scale(0.894,1)" x="-3.70">y</text><text transform="translate(1153.30,0) scale(1.725,1)" x="-2.46">-</text><text transform="translate(1161.30,0) scale(0.920,1)" x="-4.28">b</text><text transform="translate(1169.30,0) scale(0.863,1)" x="-4.43">a</text><text transform="translate(1177.30,0) scale(0.920,1)" x="-3.64">s</text><text transform="translate(1185.30,0) scale(0.920,1)" x="-4.10">e</text><text transform="translate(1193.30,0) scale(0.920,1)" x="-3.95">d</text><text transform="translate(1209.30,0) scale(0.920,1)" x="-3.95">d</text><text transform="translate(1217.30,0) scale(0.863,1)" x="-4.43">a</text><text transform="translate(1225.30,0) scale(0.920,1)" x="-2.11">t</text><text transform="translate(1233.30,0) scale(0.863,1)" x="-4.43">a</text><text transform="translate(1249.30,0) scale(0.920,1)" x="-3.64">s</text><text transform="translate(1257.30,0) scale(0.920,1)" x="-4.10">e</text><text transform="translate(1265.30,0) scale(0.920,1)" x="-2.11">t</text></g>
<line x1="1056.3" y1="100.1" x2="1089.6" y2="100.1" stroke="#ff7f0e" stroke-width="1.9"/>
<g transform="translate(0,105.8)" font-family="Liberation Sans, sans-serif" font-size="14.8" stroke="#000" stroke-width="0.35"><text transform="translate(1105.30,0) scale(0.700,1)" x="-5.44">C</text><text transform="translate(1113.30,0) scale(0.920,1)" x="-1.65">l</text><text transform="translate(1121.30,0) scale(0.863,1)" x="-4.43">a</text><text transform="translate(1129.30,0) scale(0.920,1)" x="-3.64">s</text><text transform="translate(1137.30,0) scale(0.920,1)" x="-3.64">s</text><text transform="translate(1145.30,0) scale(1.725,1)" x="-2.46">-</text><text transform="translate(1153.30,0) scale(0.920,1)" x="-4.28">b</text><text transform="translate(1161.30,0) scale(0.863,1)" x="-4.43">a</text><text transform="translate(1169.30,0) scale(0.920,1)" x="-3.64">s</text><text transform="translate(1177.30,0) scale(0.920,1)" x="-4.10">e</text><text transform="translate(1185.30,0) scale(0.920,1)" x="-3.95">d</text><text transform="translate(1201.30,0) scale(0.920,1)" x="-3.95">d</text><text transform="translate(1209.30,0) scale(0.863,1)" x="-4.43">a</text><text transform="translate(1217.30,0) scale(0.920,1)" x="-2.11">t</text><text transform="translate(1225.30,0) scale(0.863,1)" x="-4.43">a</text><text transform="translate(1241.30,0) scale(0.920,1)" x="-3.64">s</text><text transform="translate(1249.30,0) scale(0.920,1)" x="-4.10">e</text><text transform="translate(1257.30,0) scale(0.920,1)" x="-2.11">t</text></g>
<line x1="1056.3" y1="121.2" x2="1089.6" y2="121.2" stroke="#2ca02c" stroke-width="1.9"/>
<g transform="translate(0,126.9)" font-family="Liberation Sans, sans-serif" font-size="14.8" stroke="#000" stroke-width="0.35"><text transform="translate(1105.30,0) scale(0.668,1)" x="-4.94">A</text><text transform="translate(1113.30,0) scale(0.633,1)" x="-6.17">m</text><text transform="translate(1121.30,0) scale(0.863,1)" x="-4.43">a</text><text transform="translate(1129.30,0) scale(0.920,1)" x="-4.13">n</text><text transform="translate(1137.30,0) scale(0.920,1)" x="-4.10">u</text><text transform="translate(1145.30,0) scale(0.863,1)" x="-4.43">a</text><text transform="translate(1153.30,0) scale(0.920,1)" x="-1.65">l</text><text transform="translate(1161.30,0) scale(0.920,1)" x="-1.65">l</text><text transform="translate(1169.30,0) scale(0.894,1)" x="-3.70">y</text><text transform="translate(1185.30,0) scale(0.920,1)" x="-4.13">n</text><text transform="translate(1193.30,0) scale(0.920,1)" x="-4.13">n</text><text transform="translate(1201.30,0) scale(0.920,1)" x="-4.12">o</text><text transform="translate(1209.30,0) scale(0.920,1)" x="-2.11">t</text><text transform="translate(1217.30,0) scale(0.863,1)" x="-4.43">a</text><text transform="translate(1225.30,0) scale(0.920,1)" x="-2.11">t</text><text transform="translate(1233.30,0) scale(0.920,1)" x="-1.64">i</text><text transform="translate(1241.30,0) scale(0.920,1)" x="-4.12">o</text><text transform="translate(1249.30,0) scale(0.920,1)" x="-4.13">n</text></g>
</svg>
</body></html>
